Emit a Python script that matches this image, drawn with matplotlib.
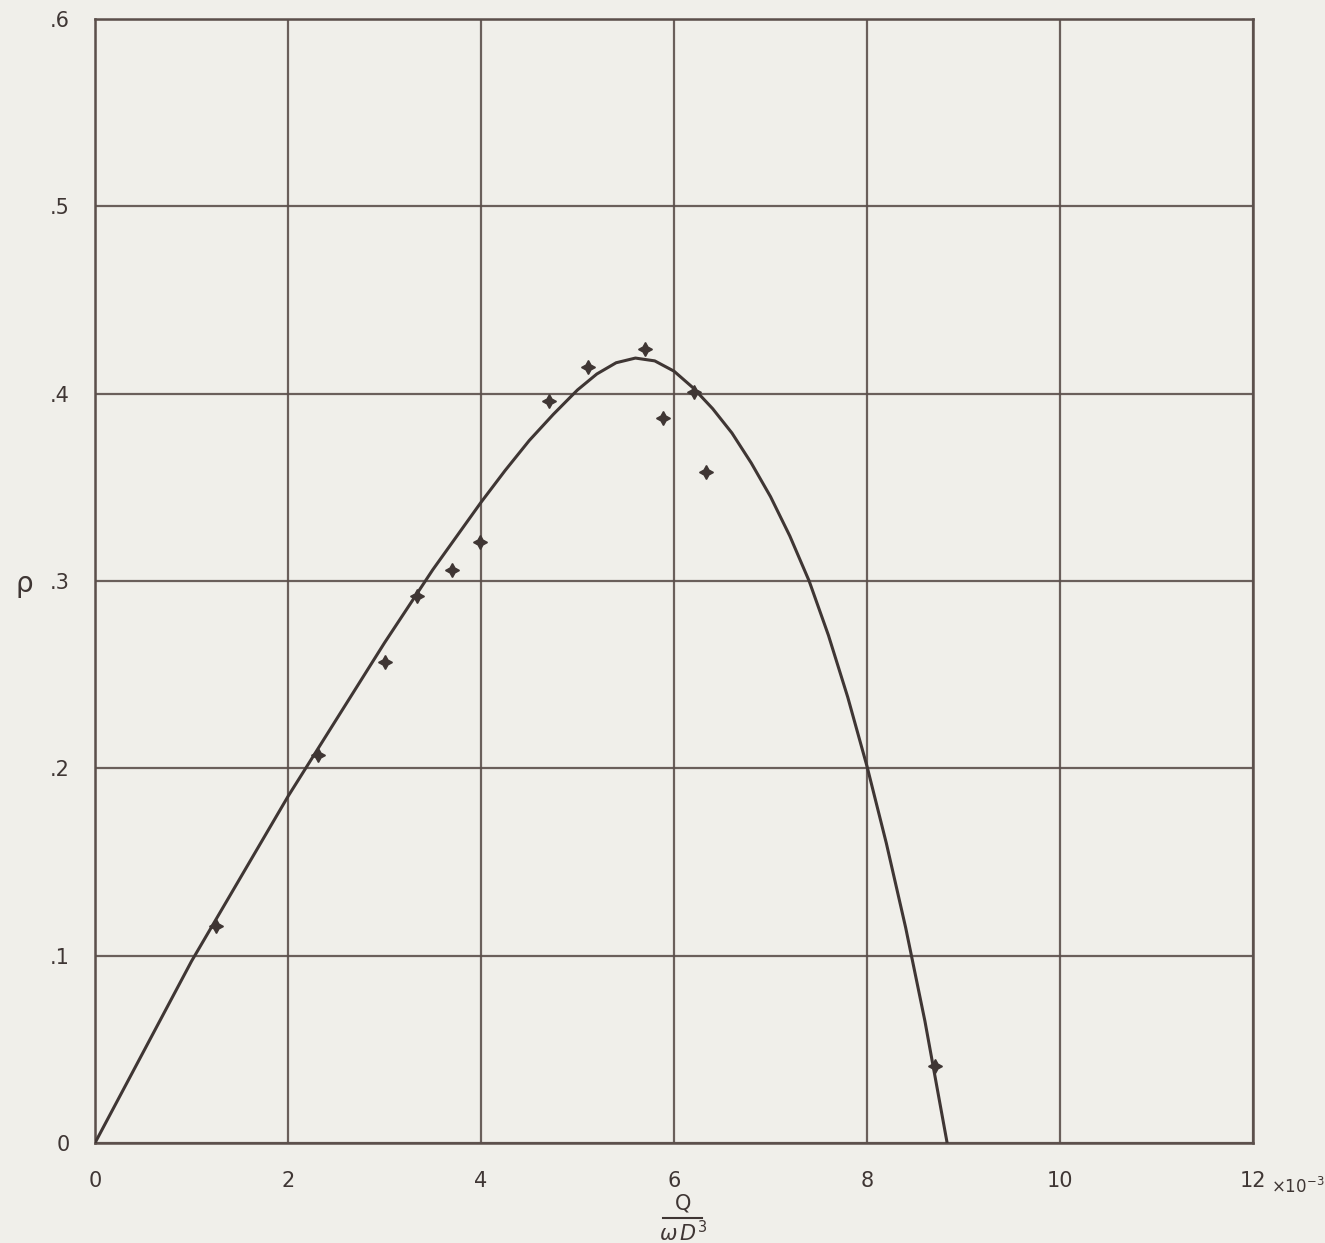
import numpy as np
import matplotlib

matplotlib.use("Agg")
import matplotlib.pyplot as plt
from matplotlib.lines import Line2D

# ── Data ──────────────────────────────────────────────────────────────────────
# measured points (Q / wD^3 in units of 1e-3, rho)
meas_q = [1.25, 2.31, 3.00, 3.34, 3.70, 3.99, 4.70, 5.11, 5.70, 5.89, 6.21, 6.33, 8.70]
meas_p = [0.116, 0.207, 0.257, 0.292, 0.306, 0.321, 0.396, 0.414, 0.424, 0.387, 0.401, 0.358, 0.041]

# faired curve through the measurements
curve_q = [0.0, 0.5, 1.0, 1.5, 2.0, 2.5, 3.0, 3.5, 4.0, 4.25, 4.5, 4.75,
           5.0, 5.2, 5.4, 5.6, 5.8, 6.0, 6.2, 6.4, 6.6, 6.8, 7.0, 7.2,
           7.4, 7.6, 7.8, 8.0, 8.2, 8.4, 8.6, 8.83]
curve_p = [0.0, 0.0485, 0.097, 0.141, 0.185, 0.226, 0.267, 0.306, 0.342, 0.359, 0.375, 0.389,
           0.402, 0.4105, 0.4165, 0.419, 0.4175, 0.412, 0.403, 0.392, 0.379, 0.363, 0.345, 0.324,
           0.300, 0.271, 0.238, 0.201, 0.160, 0.115, 0.065, 0.0]

x_ticks = [0, 2, 4, 6, 8, 10, 12]
x_labels = ["0", "2", "4", "6", "8", "10", "12"]
y_ticks = [0, 0.1, 0.2, 0.3, 0.4, 0.5, 0.6]
y_labels = ["0", ".1", ".2", ".3", ".4", ".5", ".6"]

PAPER = "#f0efea"
INK = "#3f3634"
GRID = "#5b4f4b"

# ── Figure ────────────────────────────────────────────────────────────────────
fig = plt.figure(figsize=(13.25, 12.43), dpi=100, facecolor=PAPER)
ax = fig.add_axes([0.0717, 0.0805, 0.8740, 0.9042], facecolor=PAPER)

ax.set_xlim(0, 12)
ax.set_ylim(0, 0.6)
ax.set_xticks(x_ticks)
ax.set_xticklabels(x_labels)
ax.set_yticks(y_ticks)
ax.set_yticklabels(y_labels)
ax.tick_params(length=0, labelsize=15, colors=INK)
ax.tick_params(axis="x", pad=20)
ax.tick_params(axis="y", pad=18)
ax.grid(True, color=GRID, linewidth=1.6, alpha=0.9)
for s in ax.spines.values():
    s.set_color(GRID)
    s.set_linewidth(1.8)

ax.plot(curve_q, curve_p, color=INK, linewidth=2.2, solid_joinstyle="round",
        solid_capstyle="round", zorder=3)
ax.plot(meas_q, meas_p, linestyle="none", marker=(4, 1, 0), markersize=10,
        color=INK, zorder=4)

# axis annotations
ax.text(12.19, -0.0235, r"$\times10^{-3}$", fontsize=12, color=INK,
        ha="left", va="center", clip_on=False)

# x label drawn as a stacked fraction Q / (w D^3)
fig.text(0.5155, 1 - 1204 / 1243, "Q", fontsize=15, color=INK, ha="center", va="center")
fig.text(0.5155, 1 - 1233 / 1243, r"$\omega\,D^3$", fontsize=15, color=INK,
         ha="center", va="center")
fig.add_artist(Line2D([663 / 1325, 702 / 1325], [1 - 1218 / 1243] * 2,
                      color=INK, linewidth=1.5))

fig.text(0.012, 0.53, "ρ", fontsize=20, color=INK, ha="left", va="center")

fig.savefig("out.png", dpi=100, facecolor=PAPER)
